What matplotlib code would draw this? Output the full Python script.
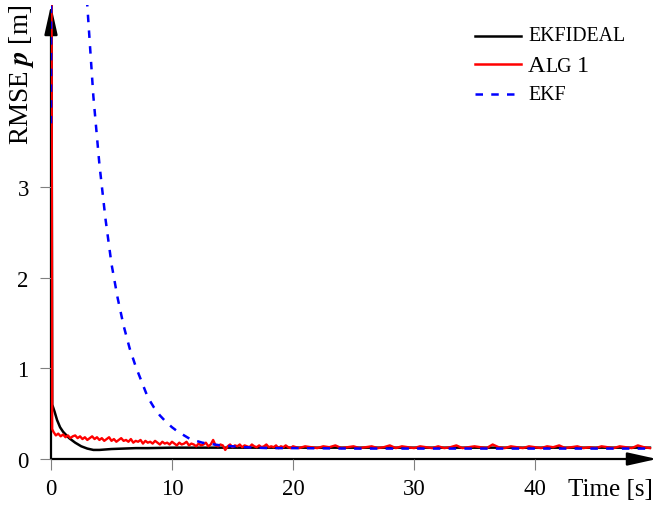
import numpy as np
import matplotlib
matplotlib.use("Agg")
import matplotlib.pyplot as plt

plt.rcParams["font.family"] = "Liberation Serif"
plt.rcParams["mathtext.fontset"] = "stix"

# EKF with ideal model (black)
ideal_t = [0.0, 0.1, 0.3, 0.5, 0.75, 1.0, 1.5, 2.0, 2.5, 3.0, 3.5, 4.0, 4.5, 5.0,
           6.0, 7.0, 8.0, 10.0, 15.0, 20.0, 30.0, 40.0, 49.5]
ideal_rmse = [8.0, 0.60, 0.52, 0.43, 0.35, 0.30, 0.23, 0.18, 0.14, 0.115, 0.10, 0.10,
              0.105, 0.11, 0.115, 0.12, 0.12, 0.125, 0.125, 0.125, 0.125, 0.125, 0.125]

# Alg 1 (red, noisy)
alg_t = np.concatenate([[0.0, 0.1], np.arange(0.2, 20.01, 0.2), np.arange(20.5, 49.51, 0.5)])
alg_rmse = [9.0, 0.33,
            0.30, 0.26, 0.28, 0.25, 0.27, 0.24, 0.26, 0.23, 0.25, 0.26,
            0.23, 0.25, 0.22, 0.24, 0.21, 0.23, 0.25, 0.22, 0.24, 0.21,
            0.23, 0.20, 0.22, 0.24, 0.20, 0.22, 0.19, 0.21, 0.23, 0.20,
            0.21, 0.19, 0.22, 0.18, 0.20, 0.19, 0.21, 0.17, 0.20, 0.18,
            0.19, 0.17, 0.20, 0.18, 0.16, 0.19, 0.17, 0.18, 0.16, 0.19,
            0.17, 0.15, 0.18, 0.16, 0.17, 0.19, 0.15, 0.17, 0.16, 0.14,
            0.17, 0.15, 0.16, 0.18, 0.14, 0.16, 0.21, 0.15, 0.14, 0.16,
            0.15, 0.10, 0.14, 0.16, 0.13, 0.15, 0.14, 0.16, 0.13, 0.15,
            0.14, 0.13, 0.16, 0.14, 0.13, 0.15, 0.13, 0.14, 0.16, 0.13,
            0.14, 0.13, 0.15, 0.12, 0.14, 0.13, 0.15, 0.13, 0.12, 0.14,
            0.12, 0.14, 0.13, 0.12, 0.14, 0.13, 0.15, 0.12, 0.13, 0.14,
            0.12, 0.13, 0.14, 0.12, 0.13, 0.15, 0.12, 0.14, 0.13, 0.12,
            0.14, 0.13, 0.12, 0.14, 0.12, 0.13, 0.15, 0.12, 0.13, 0.14,
            0.13, 0.12, 0.16, 0.13, 0.12, 0.14, 0.13, 0.12, 0.14, 0.13,
            0.12, 0.14, 0.13, 0.15, 0.12, 0.13, 0.14, 0.12, 0.13, 0.12,
            0.14, 0.13, 0.12, 0.14, 0.13, 0.12, 0.15, 0.13, 0.12]

# plain EKF (blue, dashed)
ekf_t = [0.0, 0.1, 1.0, 2.0, 3.0, 3.5, 4.0, 4.5, 5.0, 5.5, 6.0, 6.5, 7.0, 7.5, 8.0,
         8.5, 9.0, 9.5, 10.0, 10.5, 11.0, 11.5, 12.0, 12.5, 13.0, 14.0, 15.0, 16.0,
         18.0, 20.0, 25.0, 30.0, 40.0, 49.5]
ekf_rmse = [3.7, 17.0, 11.3, 7.5, 5.0, 4.0, 3.25, 2.65, 2.15, 1.78, 1.47, 1.22, 1.02,
            0.85, 0.68, 0.57, 0.48, 0.41, 0.35, 0.30, 0.26, 0.22, 0.20, 0.18, 0.17,
            0.15, 0.14, 0.13, 0.12, 0.12, 0.115, 0.115, 0.115, 0.115]

W, H = 655, 506
fig = plt.figure(figsize=(W / 100, H / 100), dpi=100)
ax = fig.add_axes([51 / W, (H - 460) / H, 606 / W, 454 / H])

ax.plot(ideal_t, ideal_rmse, color="black", lw=1.8, zorder=3)
ax.plot(alg_t, alg_rmse, color="red", lw=1.7, zorder=4)
ax.plot(ekf_t, ekf_rmse, color="blue", lw=1.8, dashes=(3, 3.3), zorder=5)

ax.set_xlim(0, 606 / 12.1)
ax.set_ylim(0, 454 / 90.7)
ax.set_xticks([0, 10, 20, 30, 40])
ax.set_yticks([0, 1, 2, 3])
for s in ax.spines.values():
    s.set_visible(False)
ax.tick_params(direction="out", length=8, width=0.8, color="#808080",
               labelsize=16.5, pad=6)
ax.tick_params(axis="y", pad=8)

# axis lines with arrows
arrow = dict(arrowstyle="-|>,head_length=1.8,head_width=0.4", color="black",
             lw=1.6, mutation_scale=10, shrinkA=0, shrinkB=0)
ax.annotate("", xy=(1, 0), xytext=(0, 0), xycoords="axes fraction", arrowprops=arrow, zorder=1)
ax.annotate("", xy=(0, 1), xytext=(0, 0), xycoords="axes fraction", arrowprops=arrow, zorder=1)

fig.text(653 / W, (H - 496) / H, "Time [s]", ha="right", va="baseline", fontsize=18)
fig.text(21 / W, 1 - 5 / H, r"RMSE $\boldsymbol{p}$ [m]", rotation=90,
         ha="center", va="top", fontsize=19.5)

# legend, drawn by hand to get the small caps
big, small = 17.5, 14.3
renderer = fig.canvas.get_renderer()


def put_text(parts, x, y_img):
    for s, size in parts:
        t = fig.text(x / W, (H - y_img) / H, s, fontsize=size, va="baseline")
        x = t.get_window_extent(renderer).x1 + (5 if s.endswith("G") else 0)


entries = [
    ("black", "solid", 36.5, 41, [("EKFIDEAL", small)]),
    ("red", "solid", 65, 72, [("A", big), ("LG", small), ("1", big)]),
    ("blue", "dashed", 94.5, 100, [("EKF", small)]),
]
for col, ls, y_line, y_text, parts in entries:
    kw = dict(dashes=(3, 3.3)) if ls == "dashed" else {}
    fig.add_artist(plt.Line2D([475 / W, 521 / W], [(H - y_line) / H] * 2,
                              color=col, lw=1.8, **kw))
    put_text(parts, 528, y_text)

fig.savefig("out.png", dpi=100)
